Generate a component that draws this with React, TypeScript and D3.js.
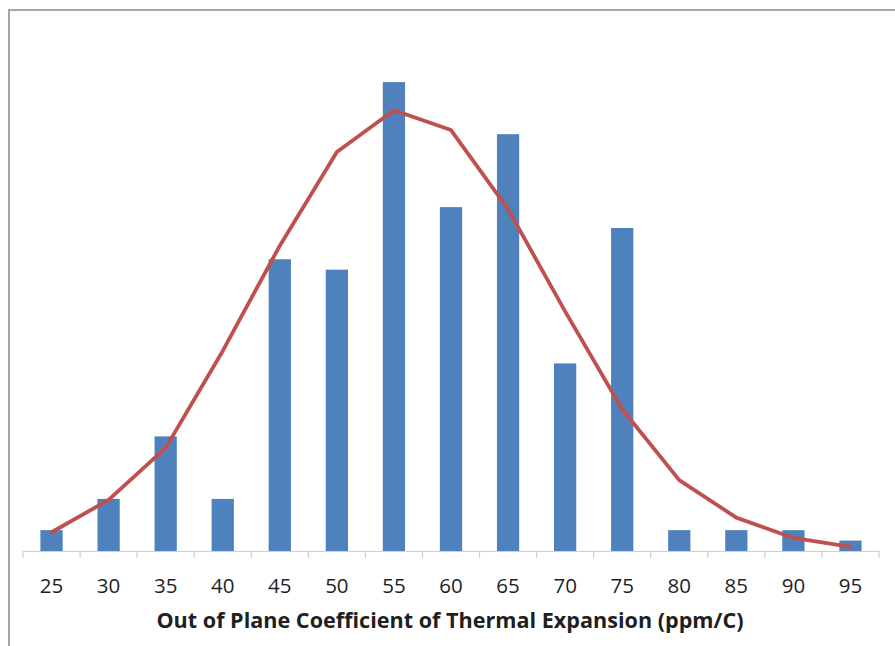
import * as d3 from 'd3';

// bin labels (ppm/C)
const bins = ['25', '30', '35', '40', '45', '50', '55', '60', '65', '70', '75', '80', '85', '90', '95'];
// measured counts per bin
const counts = [2, 5, 11, 5, 28, 27, 45, 33, 40, 18, 31, 2, 2, 2, 1];
// fitted normal curve
const fit = [1.8, 4.9, 9.9, 19.2, 29.3, 38.3, 42.3, 40.4, 32.8, 23.0, 13.6, 6.8, 3.2, 1.25, 0.4];

const W = 895;
const H = 646;

const App = () => {
    const x = d3.scaleBand<string>()
        .domain(bins)
        .range([23, 879])
        .paddingInner(0.61)
        .paddingOuter(0.305);

    const y = d3.scaleLinear().domain([0, 50]).range([551, 30]);

    const step = x.step();
    const cx = (c: string) => (x(c) as number) + x.bandwidth() / 2;
    const tickXs = bins.map(c => cx(c) - step / 2).concat([cx(bins[bins.length - 1]) + step / 2]);

    const line = d3.line<number>()
        .x((_, i) => cx(bins[i]))
        .y(d => y(d));

    return (
        <svg width={W} height={H} style={{ position: 'absolute', left: 0, top: 0, display: 'block' }}>
            <rect x={0} y={0} width={W} height={H} fill="#fff" />
            {/* chart frame, cut off at right and bottom */}
            <rect x={9} y={10} width={W + 20} height={H + 20} fill="none" stroke="#a6a6a6" strokeWidth={2} />

            {counts.map((v, i) => (
                <rect key={bins[i]}
                    x={x(bins[i])}
                    y={y(v)}
                    width={x.bandwidth()}
                    height={y(0) - y(v)}
                    fill="#4F81BD" />
            ))}

            {/* category axis */}
            <line x1={tickXs[0]} x2={tickXs[tickXs.length - 1]} y1={y(0) + 0.5} y2={y(0) + 0.5} stroke="#cfcfcf" strokeWidth={1.2} />
            {tickXs.map((t, i) => (
                <line key={i} x1={t} x2={t} y1={y(0)} y2={y(0) + 7} stroke="#cfcfcf" strokeWidth={1.2} />
            ))}

            <path d={line(fit) ?? ''} fill="none" stroke="#C0504D" strokeWidth={3.8}
                strokeLinejoin="round" strokeLinecap="round" />

            {bins.map(c => (
                <text key={c} x={cx(c)} y={593} textAnchor="middle"
                    fontFamily="'Open Sans', sans-serif" fontSize={20.5} fill="#1f1f1f">{c}</text>
            ))}

            <text x={450} y={628} textAnchor="middle" fontFamily="'Open Sans', sans-serif"
                fontSize={21.6} fontWeight="bold" fill="#1f1f1f">
                Out of Plane Coefficient of Thermal Expansion (ppm/C)
            </text>
        </svg>
    );
};

export default App;
